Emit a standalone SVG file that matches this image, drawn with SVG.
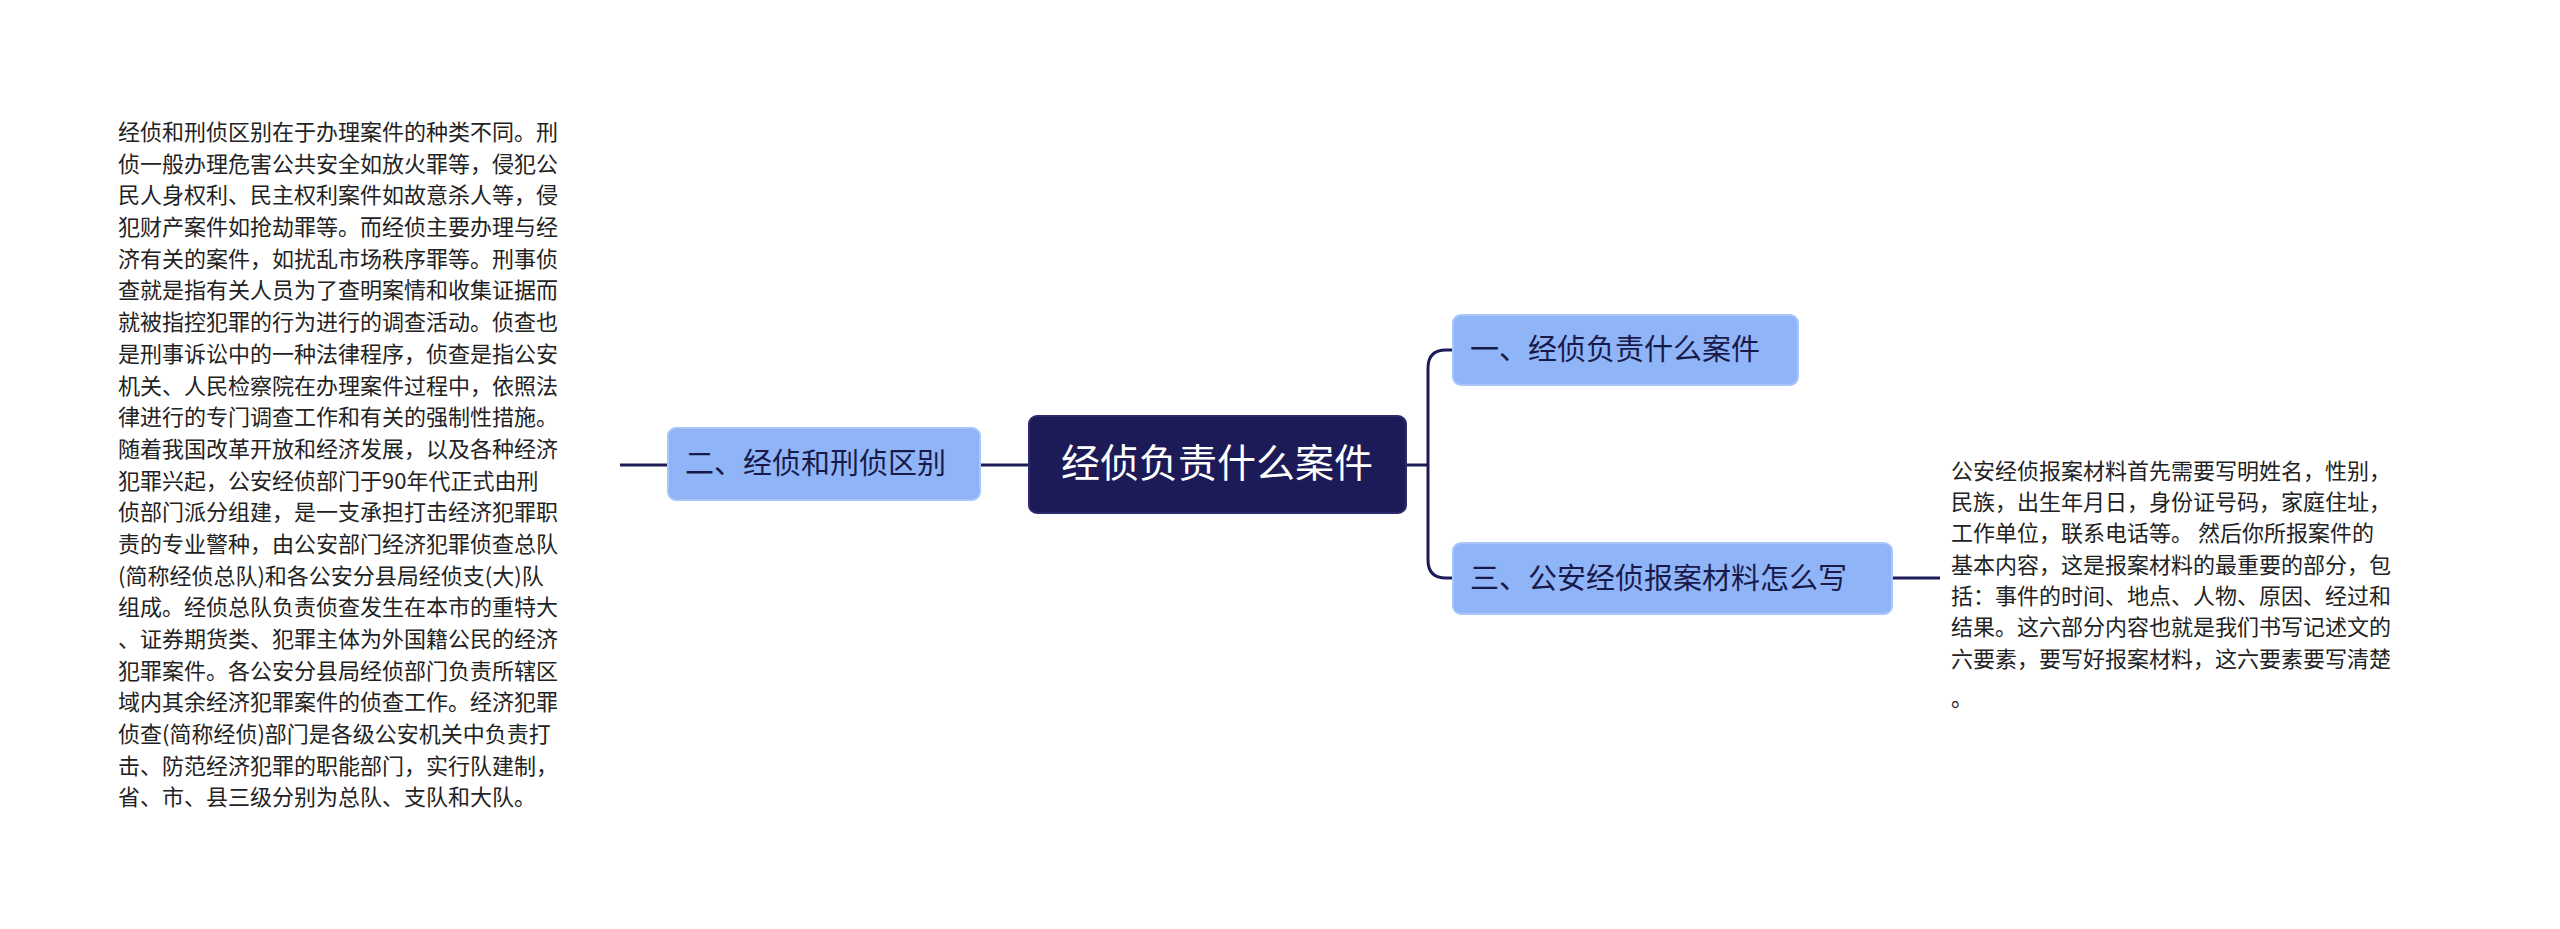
<svg xmlns="http://www.w3.org/2000/svg" width="2560" height="929" viewBox="0 0 2560 929">
<style>
.t{font-family:"Noto Sans CJK SC","Noto Sans",sans-serif;font-size:22px;fill:#222}
.n{font-family:"Noto Sans CJK SC","Noto Sans",sans-serif;font-size:29px;fill:#1a1a4a}
.sub{fill:#8fb5f8;stroke:#a9c6fa;stroke-width:2}
.c{fill:none;stroke:#1c1a57;stroke-width:3}
</style>
<rect width="2560" height="929" fill="#fff"/>
<g id="connectors">
<path class="c" d="M1406 465 H1428 M1428 465 V368 Q1428 350 1446 350 H1453 M1428 465 V560 Q1428 578 1446 578 H1453"/>
<path class="c" d="M1029 465 H980"/>
<path class="c" d="M668 465 H620"/>
<path class="c" d="M1892 578 H1940"/>
</g>
<g id="root">
<rect x="1029" y="416" width="377" height="97" rx="8" fill="#1c1a57" stroke="#2b2a6a" stroke-width="2"/>
<text x="1217" y="477" text-anchor="middle" font-family="Noto Sans CJK SC, sans-serif" font-size="39" fill="#fff">经侦负责什么案件</text>
</g>
<g id="n1">
<rect class="sub" x="1453" y="315" width="345" height="70" rx="8"/>
<text class="n" x="1470" y="360">一、经侦负责什么案件</text>
</g>
<g id="n3">
<rect class="sub" x="1453" y="543" width="439" height="71" rx="8"/>
<text class="n" x="1470" y="589">三、公安经侦报案材料怎么写</text>
</g>
<g id="n2">
<rect class="sub" x="668" y="428" width="312" height="72" rx="8"/>
<text class="n" x="685" y="474">二、经侦和刑侦区别</text>
</g>
<g id="t3">
<text class="t" x="1951" y="479">公安经侦报案材料首先需要写明姓名，性别，</text>
<text class="t" x="1951" y="510">民族，出生年月日，身份证号码，家庭住址，</text>
<text class="t" x="1951" y="541">工作单位，联系电话等。 然后你所报案件的</text>
<text class="t" x="1951" y="573">基本内容，这是报案材料的最重要的部分，包</text>
<text class="t" x="1951" y="604">括：事件的时间、地点、人物、原因、经过和</text>
<text class="t" x="1951" y="635">结果。这六部分内容也就是我们书写记述文的</text>
<text class="t" x="1951" y="667">六要素，要写好报案材料，这六要素要写清楚</text>
<text class="t" x="1951" y="706">。</text>
</g>
<g id="t2">
<text class="t" x="118" y="140">经侦和刑侦区别在于办理案件的种类不同。刑</text>
<text class="t" x="118" y="172">侦一般办理危害公共安全如放火罪等，侵犯公</text>
<text class="t" x="118" y="203">民人身权利、民主权利案件如故意杀人等，侵</text>
<text class="t" x="118" y="235">犯财产案件如抢劫罪等。而经侦主要办理与经</text>
<text class="t" x="118" y="267">济有关的案件，如扰乱市场秩序罪等。刑事侦</text>
<text class="t" x="118" y="298">查就是指有关人员为了查明案情和收集证据而</text>
<text class="t" x="118" y="330">就被指控犯罪的行为进行的调查活动。侦查也</text>
<text class="t" x="118" y="362">是刑事诉讼中的一种法律程序，侦查是指公安</text>
<text class="t" x="118" y="394">机关、人民检察院在办理案件过程中，依照法</text>
<text class="t" x="118" y="425">律进行的专门调查工作和有关的强制性措施。</text>
<text class="t" x="118" y="457">随着我国改革开放和经济发展，以及各种经济</text>
<text class="t" x="118" y="489">犯罪兴起，公安经侦部门于90年代正式由刑</text>
<text class="t" x="118" y="520">侦部门派分组建，是一支承担打击经济犯罪职</text>
<text class="t" x="118" y="552">责的专业警种，由公安部门经济犯罪侦查总队</text>
<text class="t" x="118" y="584">(简称经侦总队)和各公安分县局经侦支(大)队</text>
<text class="t" x="118" y="615">组成。经侦总队负责侦查发生在本市的重特大</text>
<text class="t" x="118" y="647">、证券期货类、犯罪主体为外国籍公民的经济</text>
<text class="t" x="118" y="679">犯罪案件。各公安分县局经侦部门负责所辖区</text>
<text class="t" x="118" y="710">域内其余经济犯罪案件的侦查工作。经济犯罪</text>
<text class="t" x="118" y="742">侦查(简称经侦)部门是各级公安机关中负责打</text>
<text class="t" x="118" y="774">击、防范经济犯罪的职能部门，实行队建制，</text>
<text class="t" x="118" y="805">省、市、县三级分别为总队、支队和大队。</text>
</g>
</svg>
